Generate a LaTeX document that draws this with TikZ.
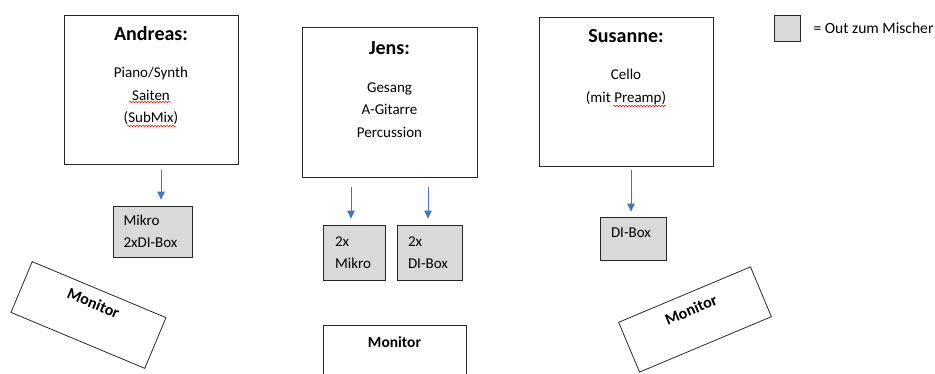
\documentclass[tikz,border=0pt]{standalone}
\usepackage{fontspec}
\setmainfont{Carlito}
\usetikzlibrary{positioning,arrows.meta,decorations.pathmorphing}
\definecolor{arrowblue}{HTML}{4472C4}
\definecolor{outgray}{HTML}{D9D9D9}

\begin{document}
\begin{tikzpicture}[x=1pt,y=-1pt,
	player/.style={draw=black!85, line width=0.8pt, minimum width=174pt, minimum height=149pt, inner sep=0pt},
	head/.style={font=\fontsize{20}{24}\selectfont\bfseries, inner sep=0pt},
	instr/.style={font=\fontsize{15}{22.5}\selectfont, align=center, inner sep=0pt},
	outbox/.style={draw=black!85, line width=0.8pt, fill=outgray, font=\fontsize{15}{22.5}\selectfont, align=left, inner sep=0pt},
	monitor/.style={draw=black!85, line width=0.8pt, font=\fontsize{16}{19}\selectfont\bfseries, inner sep=0pt},
	sig/.style={draw=arrowblue, line width=0.9pt, -{Triangle[width=7.5pt,length=8pt]}},
	typo/.style={draw=red, line width=0.5pt, decorate, decoration={snake, amplitude=0.8pt, segment length=3pt}}]
	\useasboundingbox (0,0) rectangle (935,373);
	% players
	\node[player] (andreas) at (151,89.5) {};
	\node[head] (andreasHead) at (151,34) {Andreas:};
	\node[instr] (andreasInst) at (151,96) {Piano/Synth\\Saiten\\(SubMix)};
	\node[player, minimum width=175pt, minimum height=150pt] (jens) at (389.5,102) {};
	\node[head] (jensHead) at (389.5,48) {Jens:};
	\node[instr] (jensInst) at (389.5,110) {Gesang\\A-Gitarre\\Percussion};
	\node[player] (susanne) at (626,91.5) {};
	\node[head] (susanneHead) at (626,36) {Susanne:};
	\node[instr] (susanneInst) at (626,87) {Cello\\(mit Preamp)};
	\draw[typo] (129,102) -- (171,102);
	\draw[typo] (127,126) -- (176,126);
	\draw[typo] (613,106) -- (666,106);
	% outs
	\node[outbox, text width=58pt, inner xsep=10.5pt, minimum height=51pt] (andreasOut) at (152.5,231.5) {Mikro\\2xDI-Box};
	\node[outbox, text width=38pt, inner xsep=12pt, minimum height=55pt] (jensMic) at (354,252.5) {2x\\Mikro};
	\node[outbox, text width=43pt, inner xsep=11pt, minimum height=55pt] (jensDI) at (429.5,252.5) {2x\\DI-Box};
	\node[outbox, text width=44pt, inner xsep=11pt, inner ysep=4pt, text height=16pt, text depth=19pt] (susanneDI) at (633,238.5) {DI-Box};
	\draw[sig, shorten <=6pt, shorten >=6pt] ([xshift=10pt]andreas.south) -- ([xshift=10pt]andreas.south |- andreasOut.north);
	\draw[sig, shorten <=10pt, shorten >=6pt] ([xshift=-38.5pt]jens.south) -- ([xshift=-38.5pt]jens.south |- jensMic.north);
	\draw[sig, shorten <=10pt, shorten >=6pt] ([xshift=38.5pt]jens.south) -- ([xshift=38.5pt]jens.south |- jensDI.north);
	\draw[sig, shorten <=4pt, shorten >=5pt] ([xshift=5pt]susanne.south) -- ([xshift=5pt]susanne.south |- susanneDI.north);
	% legend
	\node[outbox, minimum size=26pt] (legend) at (787,28) {};
	\node[anchor=west, inner sep=0pt, font=\fontsize{15.6}{18}\selectfont] (legendTxt) at ([xshift=13pt]legend.east) {= Out zum Mischer};
	% monitors
	\node[monitor, rotate=-22.7, minimum width=145pt, minimum height=55pt, text height=20pt, text depth=35pt] (monLeft) at (88.5,315) {Monitor};
	\node[monitor, font=\fontsize{15.5}{19}\selectfont\bfseries, anchor=north, minimum width=143pt, inner ysep=4pt, text height=18pt, text depth=54pt] (monMid) at (394.5,325) {Monitor};
	\node[monitor, rotate=22.8, minimum width=143pt, minimum height=54pt, text height=22pt, text depth=32pt] (monRight) at (695,319.5) {Monitor};
\end{tikzpicture}
\end{document}
